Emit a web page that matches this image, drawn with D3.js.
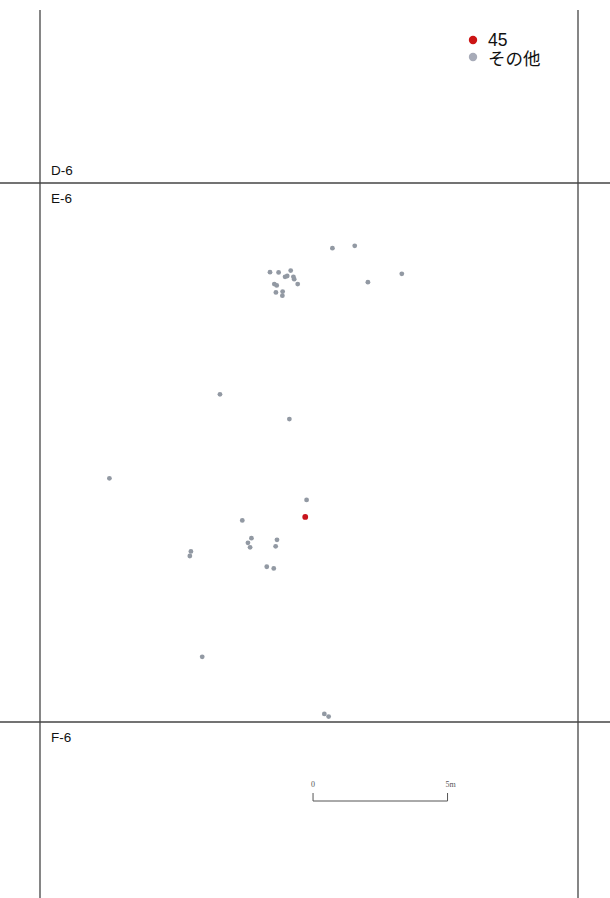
<!DOCTYPE html>
<html><head><meta charset="utf-8">
<script src="https://cdn.jsdelivr.net/npm/d3@7"></script>
<style>body{margin:0;background:#fff}svg{display:block}</style>
</head><body>
<script>
// Data (metres, relative to the NW corner of grid square E-6; 20 m grid)
const gridCols = [0, 20];            // vertical grid lines (m)
const gridRows = [0, 20];            // horizontal grid lines (m)
const gridLabels = ["D-6", "E-6", "F-6"];
const gridLabelRows = [-20, 0, 20];  // top edge of each labelled square
const otherX = [10.87,11.70,13.45,12.19,8.55,8.87,9.32,9.11,9.19,9.42,9.45,9.58,8.71,8.80,8.77,9.02,9.01,6.69,9.27,2.58,9.91,7.52,7.86,7.73,7.81,8.81,8.76,5.61,5.57,8.43,8.69,6.03,10.57,10.73];
const otherY = [2.42,2.33,3.37,3.68,3.31,3.32,3.25,3.48,3.45,3.48,3.57,3.75,3.75,3.80,4.06,4.03,4.18,7.84,8.76,10.96,11.76,12.52,13.18,13.35,13.52,13.24,13.48,13.67,13.84,14.24,14.30,17.58,19.70,19.80];
const redX = [9.86];
const redY = [12.39];
const legendLabels = ["45", "その他"];
const legendColors = ["#cc1414", "#a7abb8"];
const scaleBarTicks = [0, 5];
const scaleBarLabels = ["0", "5m"];

const W = 610, H = 898;
const x = d3.scaleLinear().domain([0, 20]).range([40, 578]);
const y = d3.scaleLinear().domain([0, 20]).range([183, 722]);

const svg = d3.select("body").append("svg").attr("width", W).attr("height", H);

// grid lines
svg.selectAll("line.v").data(gridCols).join("line")
  .attr("x1", d => x(d)).attr("x2", d => x(d))
  .attr("y1", 10).attr("y2", H)
  .attr("stroke", "#444").attr("stroke-width", 1.3);
svg.selectAll("line.h").data(gridRows).join("line")
  .attr("x1", 0).attr("x2", W)
  .attr("y1", d => y(d)).attr("y2", d => y(d))
  .attr("stroke", "#444").attr("stroke-width", 1.3);

// grid labels
svg.selectAll("text.g").data(gridLabels).join("text")
  .attr("x", x(0) + 11)
  .attr("y", (d, i) => i === 0 ? y(gridLabelRows[1]) - 8 : y(gridLabelRows[i]) + 20)
  .attr("font-family", "Liberation Sans, Arial, sans-serif")
  .attr("font-size", 13.5).attr("fill", "#111")
  .text(d => d);

// other points
const others = otherX.map((v, i) => [v, otherY[i]]);
svg.selectAll("circle.o").data(others).join("circle")
  .attr("cx", d => x(d[0])).attr("cy", d => y(d[1])).attr("r", 2.4)
  .attr("fill", "#9299a3");

// red point
const reds = redX.map((v, i) => [v, redY[i]]);
svg.selectAll("circle.r").data(reds).join("circle")
  .attr("cx", d => x(d[0])).attr("cy", d => y(d[1])).attr("r", 2.9)
  .attr("fill", "#c8141c");

// legend
const lg = svg.append("g");
legendLabels.forEach((t, i) => {
  lg.append("circle").attr("cx", 473).attr("cy", 40 + i * 17).attr("r", 4.2).attr("fill", legendColors[i]);
  lg.append("text").attr("x", 488).attr("y", 45.5 + i * 19.5)
    .attr("font-family", "Liberation Sans, Noto Sans CJK JP, sans-serif")
    .attr("font-size", 17.5).attr("fill", "#111").text(t);
});

// scale bar
const sb = svg.append("g");
const sbY = 801;
const sb0 = 10.15;
sb.append("path")
  .attr("d", `M${x(sb0)},${sbY - 8}V${sbY}H${x(sb0 + 5)}V${sbY - 8}`)
  .attr("fill", "none").attr("stroke", "#555").attr("stroke-width", 1);
scaleBarTicks.forEach((t, i) => {
  sb.append("text").attr("x", x(sb0 + t) + (i ? 3 : 0)).attr("y", sbY - 14)
    .attr("text-anchor", "middle")
    .attr("font-family", "Liberation Serif, serif").attr("font-size", 8).attr("fill", "#555")
    .text(scaleBarLabels[i]);
});
</script>
</body></html>
